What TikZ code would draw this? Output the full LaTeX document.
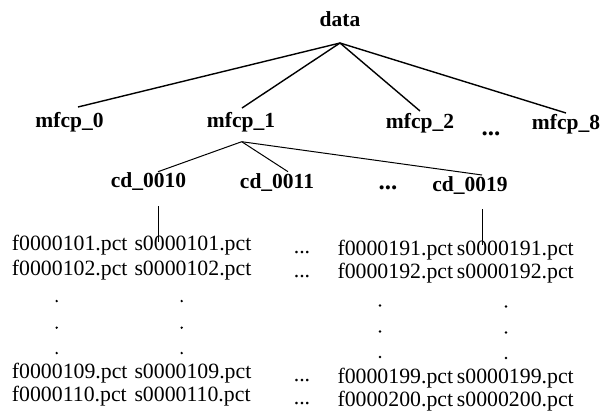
\documentclass[tikz,border=0pt]{standalone}
\usepackage{fontspec}
\setmainfont{Liberation Serif}
\begin{document}
\begin{tikzpicture}[x=1pt,y=-1pt,
  dirlabel/.style={font=\fontsize{21.5}{24}\selectfont\bfseries, anchor=base, inner sep=0pt},
  filename/.style={font=\fontsize{21.8}{24}\selectfont, anchor=base west, inner sep=0pt},
  bigdots/.style={font=\fontsize{25}{25}\selectfont\bfseries, anchor=base, inner sep=0pt},
  smalldots/.style={font=\fontsize{21.8}{24}\selectfont, anchor=base, inner sep=0pt},
  trunk/.style={line width=1.4pt},
  branch/.style={line width=1pt},
  stem/.style={line width=0.7pt},
  vdot/.style={circle, fill, inner sep=0pt, minimum size=2.6pt}]
\useasboundingbox (0,0) rectangle (600,413);

% top level
\node[dirlabel] (data) at (340,26) {data};
\node[dirlabel] (m0) at (69.5,127) {mfcp\_0};
\node[dirlabel] (m1) at (241,127) {mfcp\_1};
\node[dirlabel] (m2) at (420,128) {mfcp\_2};
\node[bigdots]  (mdots) at (491,135) {...};
\node[dirlabel] (m8) at (566,129) {mfcp\_8};

% connection points of the top-level fan
\coordinate (datahub) at (340,43);
\coordinate (m0in) at (78,107);
\coordinate (m1in) at (242,108);
\coordinate (m2in) at (420,111);
\coordinate (m8in) at (566,113);
\foreach \t in {m0in,m1in,m2in,m8in}
  \draw[trunk] (datahub) -- (\t);

% second level, under mfcp_1
\node[dirlabel] (cd10) at (148.5,187.5) {cd\_0010};
\node[dirlabel] (cd11) at (277,188) {cd\_0011};
\node[bigdots]  (cddots) at (388,189) {...};
\node[dirlabel] (cd19) at (470,191) {cd\_0019};

\coordinate (m1hub) at (241.7,141.7);
\coordinate (cd10in) at (158,171.7);
\coordinate (cd11in) at (288,171.7);
\coordinate (cd19in) at (482,175);
\foreach \t in {cd10in,cd11in,cd19in}
  \draw[branch] (m1hub) -- (\t);

% stems from the cd directories down to their files
\coordinate (cd10out) at (158,206);
\coordinate (cd10end) at (158,242);
\coordinate (cd19out) at (482,209);
\coordinate (cd19end) at (482,245);
\draw[stem] (cd10out) -- (cd10end);
\draw[stem] (cd19out) -- (cd19end);

% file listings of cd_0010
\foreach \n/\y in {101/250.7, 102/275, 109/378.3, 110/401.7} {
  \node[filename] (f\n) at (11.7,\y) {f0000\n.pct};
  \node[filename] (s\n) at (134.3,\y) {s0000\n.pct};
}
% file listings of cd_0019
\foreach \n/\y in {191/255, 192/278.3, 199/383.3, 200/406.7} {
  \node[filename] (f\n) at (337.3,\y) {f0000\n.pct};
  \node[filename] (s\n) at (456.7,\y) {s0000\n.pct};
}
% ellipses between the two listings
\foreach \k/\y in {1/253, 2/277, 3/381.5, 4/404}
  \node[smalldots] (rowdots\k) at (302,\y) {...};

% vertical ellipses inside the listings
\foreach \k/\y in {1/301, 2/327.7, 3/353} {
  \node[vdot] (lf\k) at (56.7,\y) {};
  \node[vdot] (ls\k) at (181.7,\y) {};
}
\foreach \k/\y in {1/305.5, 2/331.5, 3/357} {
  \node[vdot] (rf\k) at (380,\y) {};
  \node[vdot] (rs\k) at (506,\y+1) {};
}
\end{tikzpicture}
\end{document}
